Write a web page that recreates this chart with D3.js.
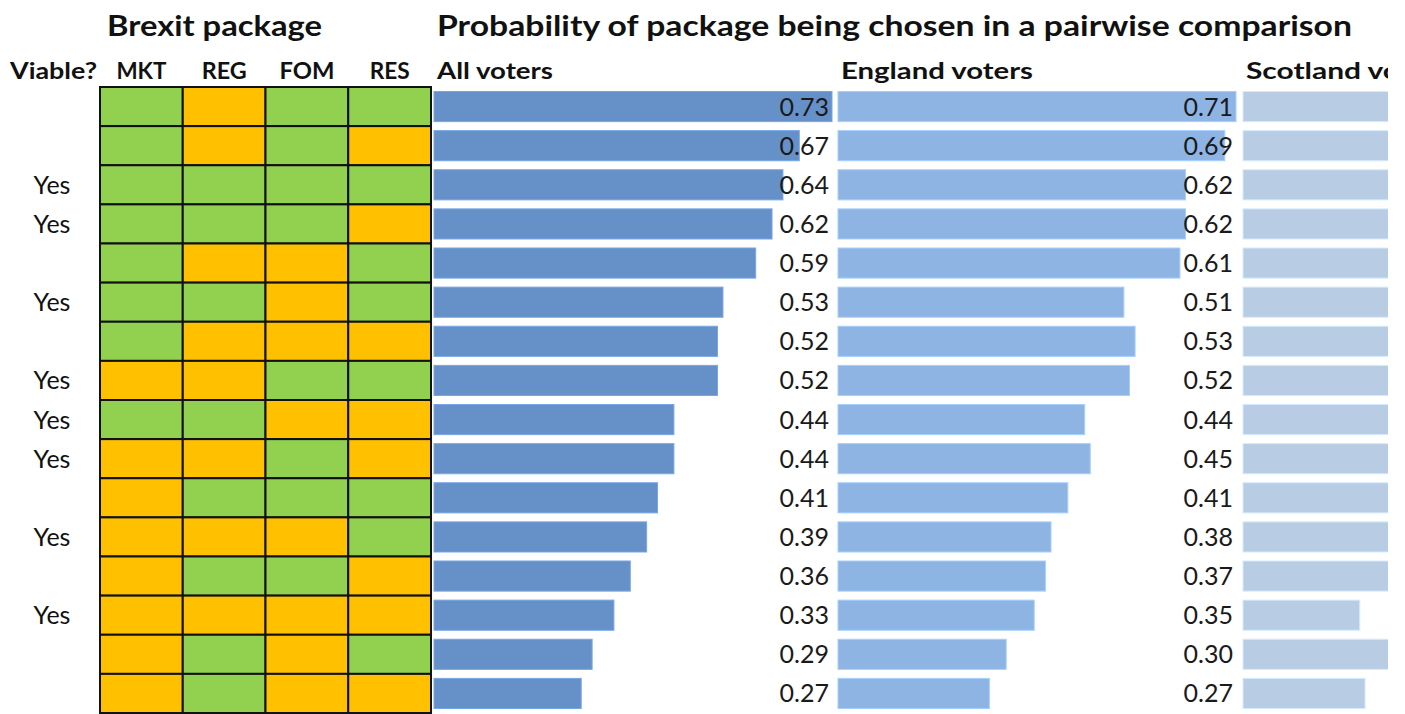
<!DOCTYPE html>
<html>
<head>
<meta charset="utf-8">
<script src="https://cdn.jsdelivr.net/npm/d3@7"></script>
<style>
  body { margin: 0; background: #fff; }
  svg { display: block; font-family: Lato, 'Open Sans', sans-serif; }
</style>
</head>
<body>
<div id="chart"></div>
<script>
var width = 1405;
var height = 714;

// package features: G = green (yes), O = orange (no)
var features = ['MKT', 'REG', 'FOM', 'RES'];
var packages = [
  'GOGG', 'GOGO', 'GGGG', 'GGGO', 'GOOG', 'GGOG', 'GOOO', 'OOGG',
  'GGOO', 'OOGO', 'OGGG', 'OOOG', 'OGGO', 'OOOO', 'OGOG', 'OGOO'
];
var viable = ['', '', 'Yes', 'Yes', '', 'Yes', '', 'Yes', 'Yes', 'Yes', '', 'Yes', '', 'Yes', '', ''];

var allVoters = [0.73, 0.67, 0.64, 0.62, 0.59, 0.53, 0.52, 0.52, 0.44, 0.44, 0.41, 0.39, 0.36, 0.33, 0.29, 0.27];
var englandVoters = [0.71, 0.69, 0.62, 0.62, 0.61, 0.51, 0.53, 0.52, 0.44, 0.45, 0.41, 0.38, 0.37, 0.35, 0.30, 0.27];
// only the first part of these bars is visible in the source
var scotlandVoters = [0.75, 0.66, 0.70, 0.61, 0.67, 0.58, 0.56, 0.49, 0.50, 0.42, 0.45, 0.40, 0.38, 0.22, 0.36, 0.23];

var panels = [
  { title: 'All voters', titleWidth: 116, values: allVoters, x: 434, color: '#6690C8', labels: true },
  { title: 'England voters', titleWidth: 192, values: englandVoters, x: 838, color: '#8EB4E3', labels: true },
  { title: 'Scotland voters', titleWidth: 205, values: scotlandVoters, x: 1243, color: '#B8CCE4', labels: false }
];
var panelWidth = 398;

var featureWidths = { MKT: 50, REG: 45, FOM: 55, RES: 40 };
var colors = { G: '#92D050', O: '#FFC000' };

var svg = d3.select('#chart')
  .append('svg')
    .attr('width', width)
    .attr('height', height);

svg.append('clipPath')
    .attr('id', 'clip')
  .append('rect')
    .attr('x', 0)
    .attr('y', 0)
    .attr('width', 1388)
    .attr('height', height);

var chart = svg.append('g').attr('clip-path', 'url(#clip)');

var y = d3.scaleBand()
  .domain(d3.range(packages.length))
  .range([87, 713]);

var yBar = d3.scaleBand()
  .domain(d3.range(packages.length))
  .range([87, 713])
  .paddingInner(0.23)
  .paddingOuter(0.115);

var xGrid = d3.scaleBand()
  .domain(features)
  .range([100, 431]);

// titles
chart.append('text')
  .attr('x', 107)
  .attr('y', 36)
  .attr('font-size', 29)
  .attr('font-weight', 'bold')
  .attr('fill', '#111')
  .attr('textLength', 215)
  .attr('lengthAdjust', 'spacingAndGlyphs')
  .text('Brexit package');

chart.append('text')
  .attr('x', 437)
  .attr('y', 36)
  .attr('font-size', 29)
  .attr('font-weight', 'bold')
  .attr('fill', '#111')
  .attr('textLength', 915)
  .attr('lengthAdjust', 'spacingAndGlyphs')
  .text('Probability of package being chosen in a pairwise comparison');

chart.append('text')
  .attr('x', 10)
  .attr('y', 79)
  .attr('font-size', 23)
  .attr('font-weight', 'bold')
  .attr('fill', '#111')
  .attr('textLength', 87)
  .attr('lengthAdjust', 'spacingAndGlyphs')
  .text('Viable?');

chart.selectAll('.feature')
    .data(features)
    .enter()
  .append('text')
    .attr('x', function (d) { return xGrid(d) + xGrid.bandwidth() / 2 - featureWidths[d] / 2; })
    .attr('y', 79)
    .attr('font-size', 23)
    .attr('font-weight', 'bold')
    .attr('fill', '#111')
    .attr('textLength', function (d) { return featureWidths[d]; })
    .attr('lengthAdjust', 'spacingAndGlyphs')
    .text(function (d) { return d; });

// viable labels
chart.selectAll('.viable')
    .data(viable)
    .enter()
  .append('text')
    .attr('x', 52)
    .attr('y', function (d, i) { return y(i) + y.bandwidth() / 2; })
    .attr('dy', '0.36em')
    .attr('text-anchor', 'middle')
    .attr('font-size', 25)
    .attr('fill', '#111')
    .text(function (d) { return d; });

// package grid
var cells = [];
packages.forEach(function (p, i) {
  features.forEach(function (f, j) {
    cells.push({ row: i, feature: f, value: p[j] });
  });
});

chart.selectAll('.cell')
    .data(cells)
    .enter()
  .append('rect')
    .attr('x', function (d) { return xGrid(d.feature); })
    .attr('y', function (d) { return y(d.row); })
    .attr('width', xGrid.bandwidth())
    .attr('height', y.bandwidth())
    .attr('fill', function (d) { return colors[d.value]; })
    .attr('stroke', '#111')
    .attr('stroke-width', 2);

// bar panels
panels.forEach(function (panel) {

  var x = d3.scaleLinear()
    .domain([0, d3.max(panel.values)])
    .range([panel.x, panel.x + panelWidth]);

  chart.append('text')
    .attr('x', panel.x + 3)
    .attr('y', 79)
    .attr('font-size', 23)
    .attr('font-weight', 'bold')
    .attr('fill', '#111')
    .attr('textLength', panel.titleWidth)
    .attr('lengthAdjust', 'spacingAndGlyphs')
    .text(panel.title);

  chart.selectAll(null)
      .data(panel.values)
      .enter()
    .append('rect')
      .attr('x', x(0))
      .attr('y', function (d, i) { return yBar(i); })
      .attr('width', function (d) { return x(d) - x(0); })
      .attr('height', yBar.bandwidth())
      .attr('fill', panel.color)
      .attr('stroke', d3.color(panel.color).brighter(0.4))
      .attr('stroke-width', 1);

  if (!panel.labels) return;

  chart.selectAll(null)
      .data(panel.values)
      .enter()
    .append('text')
      .attr('x', panel.x + panelWidth - 3)
      .attr('y', function (d, i) { return y(i) + y.bandwidth() / 2; })
      .attr('dy', '0.36em')
      .attr('text-anchor', 'end')
      .attr('font-size', 25)
      .attr('fill', '#1a1a1a')
      .text(function (d) { return d3.format('.2f')(d); });
});
</script>
</body>
</html>
